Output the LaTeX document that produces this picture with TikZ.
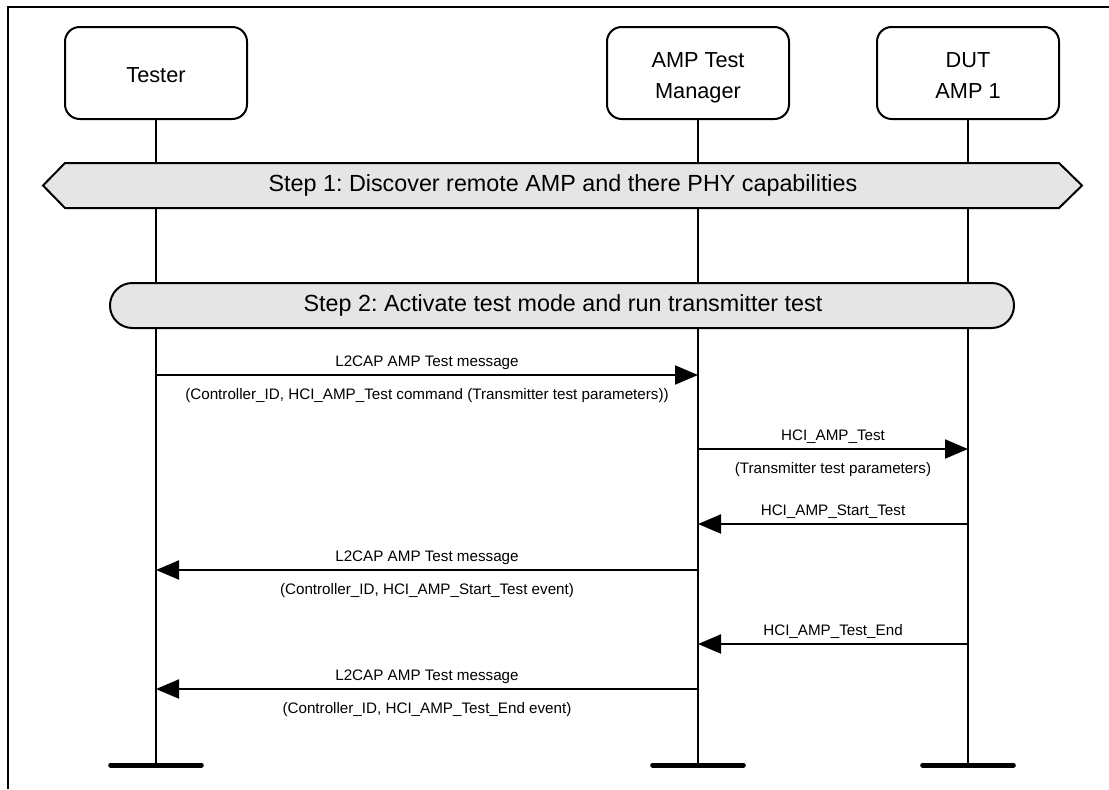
\documentclass[tikz,border=0pt]{standalone}
\usepackage{fontspec}
\setmainfont{Liberation Sans}
\frenchspacing
\usetikzlibrary{arrows.meta}
\definecolor{stepgray}{RGB}{229,229,229}
\begin{document}
\begin{tikzpicture}[x=0.75pt,y=-0.75pt,
  head/.style={draw, line width=1.5pt, rounded corners=11pt, minimum width=136.5pt, minimum height=69pt, inner sep=0pt},
  headtext/.style={align=center, inner sep=0pt, font=\fontsize{16.3}{23.25}\selectfont},
  life/.style={line width=1.3pt},
  endbar/.style={line width=3.75pt, line cap=round},
  stepbox/.style={draw, line width=1.5pt, fill=stepgray},
  steptext/.style={inner sep=0pt, font=\fontsize{17.5}{21}\selectfont},
  msg/.style={line width=1.5pt, -{Triangle[length=17.25pt,width=14.25pt]}},
  lblabove/.style={anchor=base, yshift=6.4pt, inner sep=0pt, font=\fontsize{11.4}{13}\selectfont},
  lblbelow/.style={anchor=base, yshift=-18pt, inner sep=0pt, font=\fontsize{11.4}{13}\selectfont},
]
\useasboundingbox (0,0) rectangle (1109,789);
\draw[line width=1.8pt] (8,789) -- (8,7) -- (1109,7);

% lifeline heads
\node[head] (tester) at (156,73) {};
\node[head] (amp) at (698,73) {};
\node[head] (dut) at (968,73) {};
\node[headtext] (testerlbl) at ([yshift=-1.5pt]tester.center) {Tester};
\node[headtext] (amplbl) at ([yshift=-3.75pt]amp.center) {AMP Test\\Manager};
\node[headtext] (dutlbl) at ([yshift=-2.25pt]dut.center) {DUT\\AMP 1};

% lifeline ends
\coordinate (tend) at (156,765);
\coordinate (aend) at (698,765);
\coordinate (dend) at (968,765);
\draw[life] (tester.south) -- (tend);
\draw[life] (amp.south) -- (aend);
\draw[life] (dut.south) -- (dend);
\draw[endbar] ([xshift=-34pt]tend) -- ([xshift=34pt]tend);
\draw[endbar] ([xshift=-34pt]aend) -- ([xshift=34pt]aend);
\draw[endbar] ([xshift=-34pt]dend) -- ([xshift=34pt]dend);

% step 1
\draw[stepbox] (43,185.5) -- (65,163) -- (1059,163) -- (1082,185.5) -- (1059,208) -- (65,208) -- cycle;
\node[steptext] (step1) at (563,185.5) {Step 1: Discover remote AMP and there PHY capabilities};

% step 2
\draw[stepbox, rounded corners=16.8pt] (110,283) rectangle (1014,328);
\node[steptext] (step2) at (563,305.5) {Step 2: Activate test mode and run transmitter test};

% message rows
\coordinate (r1) at (0,375);
\coordinate (r2) at (0,449);
\coordinate (r3) at (0,524);
\coordinate (r4) at (0,570);
\coordinate (r5) at (0,644);
\coordinate (r6) at (0,689);

\draw[msg] (tester.south |- r1) -- node[lblabove] (l1a) {L2CAP AMP Test message}
  node[lblbelow] (l1b) {(Controller\_ID, HCI\_AMP\_Test command (Transmitter test parameters))} (amp.south |- r1);
\draw[msg] (amp.south |- r2) -- node[lblabove] (l2a) {HCI\_AMP\_Test}
  node[lblbelow] (l2b) {(Transmitter test parameters)} (dut.south |- r2);
\draw[msg] (dut.south |- r3) -- node[lblabove] (l3a) {HCI\_AMP\_Start\_Test} (amp.south |- r3);
\draw[msg] (amp.south |- r4) -- node[lblabove] (l4a) {L2CAP AMP Test message}
  node[lblbelow] (l4b) {(Controller\_ID, HCI\_AMP\_Start\_Test event)} (tester.south |- r4);
\draw[msg] (dut.south |- r5) -- node[lblabove] (l5a) {HCI\_AMP\_Test\_End} (amp.south |- r5);
\draw[msg] (amp.south |- r6) -- node[lblabove] (l6a) {L2CAP AMP Test message}
  node[lblbelow] (l6b) {(Controller\_ID, HCI\_AMP\_Test\_End event)} (tester.south |- r6);
\end{tikzpicture}
\end{document}
